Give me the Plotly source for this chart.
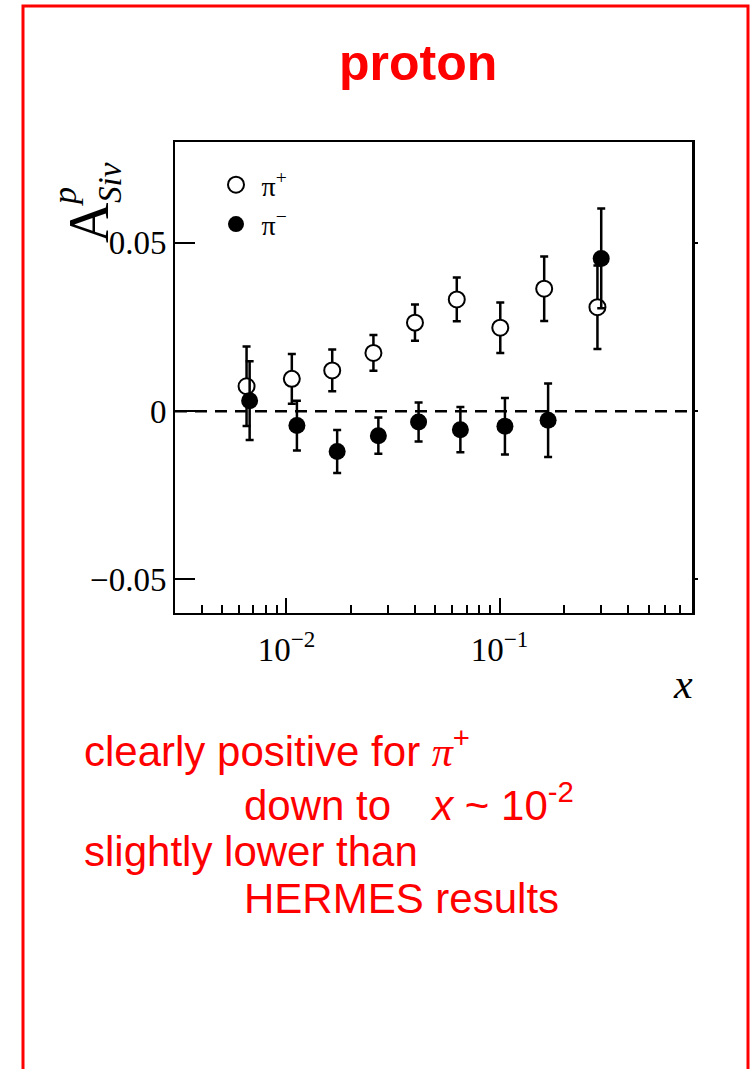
import math
import plotly.graph_objects as go

# Sivers asymmetry on a proton target vs Bjorken x
x_pip = [0.0065, 0.0106, 0.0164, 0.0256, 0.0401, 0.0630, 0.1008, 0.162, 0.288]
a_pip = [0.0074, 0.0096, 0.0121, 0.0173, 0.0263, 0.0332, 0.0248, 0.0364, 0.0309]
e_pip = [0.0118, 0.0074, 0.0062, 0.0053, 0.0054, 0.0065, 0.0075, 0.0096, 0.0124]

x_pim = [0.00672, 0.0112, 0.0173, 0.0270, 0.0417, 0.0655, 0.106, 0.169, 0.300]
a_pim = [0.0031, -0.0043, -0.0120, -0.0073, -0.0032, -0.0055, -0.0045, -0.0027, 0.0454]
e_pim = [0.0117, 0.0074, 0.0064, 0.0054, 0.0058, 0.0067, 0.0084, 0.0109, 0.0148]

y_ticks = [-0.05, 0, 0.05]
y_ticktext = ["\u22120.05", "0", "0.05"]
x_ticks = [0.01, 0.1]
x_ticktext = ["10<sup>\u22122</sup>", "10<sup>\u22121</sup>"]
x_minor = [0.004, 0.005, 0.006, 0.007, 0.008, 0.009,
           0.02, 0.03, 0.04, 0.05, 0.06, 0.07, 0.08, 0.09,
           0.2, 0.3, 0.4, 0.5, 0.6, 0.7]

SERIF = "Liberation Serif"
SANS = "Liberation Sans"
RED = "#ff0000"

# plot area in pixels (for placing decorations in paper units)
W, H = 753, 1069
L, R, T, B = 175, 692, 142, 613
PW, PH = R - L, B - T


def px(xp):
    return (xp - L) / PW


def py(yp):
    return (B - yp) / PH


fig = go.Figure()

fig.add_trace(go.Scatter(
    x=x_pip, y=a_pip, mode="markers", name="\u2009\u03c0<sup>+</sup>",
    error_y=dict(type="data", array=e_pip, color="black", thickness=2.5, width=4),
    marker=dict(symbol="circle", size=16, color="white",
                line=dict(color="black", width=2)),
))
fig.add_trace(go.Scatter(
    x=x_pim, y=a_pim, mode="markers", name="\u2009\u03c0<sup>\u2212</sup>",
    error_y=dict(type="data", array=e_pim, color="black", thickness=2.5, width=4),
    marker=dict(symbol="circle", size=17, color="black",
                line=dict(color="black", width=0)),
))
# empty trace so the right-hand axis frame is drawn
fig.add_trace(go.Scatter(x=[], y=[], yaxis="y2", showlegend=False, hoverinfo="skip"))

annotations = [
    dict(text="<b>proton</b>", x=px(418), y=py(63), font=dict(family=SANS, size=50, color=RED),
         xanchor="center", yanchor="middle"),
    # y-axis symbol A^p_Siv
    dict(text="A", x=px(89), y=py(223), font=dict(family=SERIF, size=56, color="black"),
         textangle=-90, xanchor="center", yanchor="middle"),
    dict(text="<i>p</i>", x=px(64), y=py(197), font=dict(family=SERIF, size=34, color="black"),
         textangle=-90, xanchor="center", yanchor="middle"),
    dict(text="<i>Siv</i>", x=px(110), y=py(183), font=dict(family=SERIF, size=33, color="black"),
         textangle=-90, xanchor="center", yanchor="middle"),
    # x-axis symbol
    dict(text="<i>x</i>", x=px(683), y=py(684), font=dict(family=SERIF, size=42, color="black"),
         xanchor="center", yanchor="middle"),
    # comments below the plot
    dict(text="clearly positive for <span style=\"font-family:Liberation Serif\"><i>\u03c0</i></span><sup>+</sup>",
         x=px(82), y=py(748), font=dict(family=SANS, size=42, color=RED),
         xanchor="left", yanchor="middle"),
    dict(text="down to \u2002\u2009<i>x</i> ~ 10<sup>-2</sup>",
         x=px(242), y=py(802), font=dict(family=SANS, size=42, color=RED),
         xanchor="left", yanchor="middle"),
    dict(text="slightly lower than",
         x=px(82), y=py(851), font=dict(family=SANS, size=42, color=RED),
         xanchor="left", yanchor="middle"),
    dict(text="HERMES results",
         x=px(242), y=py(898), font=dict(family=SANS, size=42, color=RED),
         xanchor="left", yanchor="middle"),
]
for a in annotations:
    a.update(xref="paper", yref="paper", showarrow=False)

fig.update_layout(
    width=W, height=H,
    margin=dict(l=L, r=W - R, t=T, b=H - B),
    paper_bgcolor="white", plot_bgcolor="white",
    showlegend=True,
    legend=dict(x=px(216), y=py(160), xanchor="left", yanchor="top",
                font=dict(family=SERIF, size=28, color="black"),
                bgcolor="rgba(0,0,0,0)", borderwidth=0, tracegroupgap=0),
    annotations=annotations,
    xaxis=dict(
        type="log", range=[math.log10(0.003), math.log10(0.8)],
        showline=True, linecolor="black", linewidth=2, mirror=True,
        showgrid=False, zeroline=False,
        tickmode="array", tickvals=x_ticks, ticktext=x_ticktext,
        ticks="inside", ticklen=15, tickwidth=2, tickcolor="black",
        ticklabelstandoff=6,
        tickfont=dict(family=SERIF, size=33, color="black"),
        minor=dict(tickmode="array", tickvals=x_minor, ticks="inside",
                   ticklen=8, tickwidth=2, tickcolor="black", showgrid=False),
    ),
    yaxis=dict(
        range=[-0.06, 0.08],
        showline=True, linecolor="black", linewidth=2, mirror=False,
        showgrid=False, zeroline=False,
        tickmode="array", tickvals=y_ticks, ticktext=y_ticktext,
        ticks="inside", ticklen=20, tickwidth=2, tickcolor="black",
        tickfont=dict(family=SERIF, size=33, color="black"),
    ),
    yaxis2=dict(
        range=[-0.06, 0.08], overlaying="y", side="right",
        showline=True, linecolor="black", linewidth=3,
        showgrid=False, zeroline=False, showticklabels=False,
        tickmode="array", tickvals=y_ticks,
        ticks="outside", ticklen=3, tickwidth=2, tickcolor="black",
    ),
)

# zero reference line
fig.add_hline(y=0, line=dict(color="black", width=2.5, dash="12px,8px"), layer="below")

# red slide frame (open at the bottom edge of the page)
fig.add_shape(type="rect", xref="paper", yref="paper",
              x0=px(23), x1=px(748), y0=py(1100), y1=py(6),
              line=dict(color=RED, width=3), fillcolor="rgba(0,0,0,0)", layer="above")

fig.write_html("out.html")
